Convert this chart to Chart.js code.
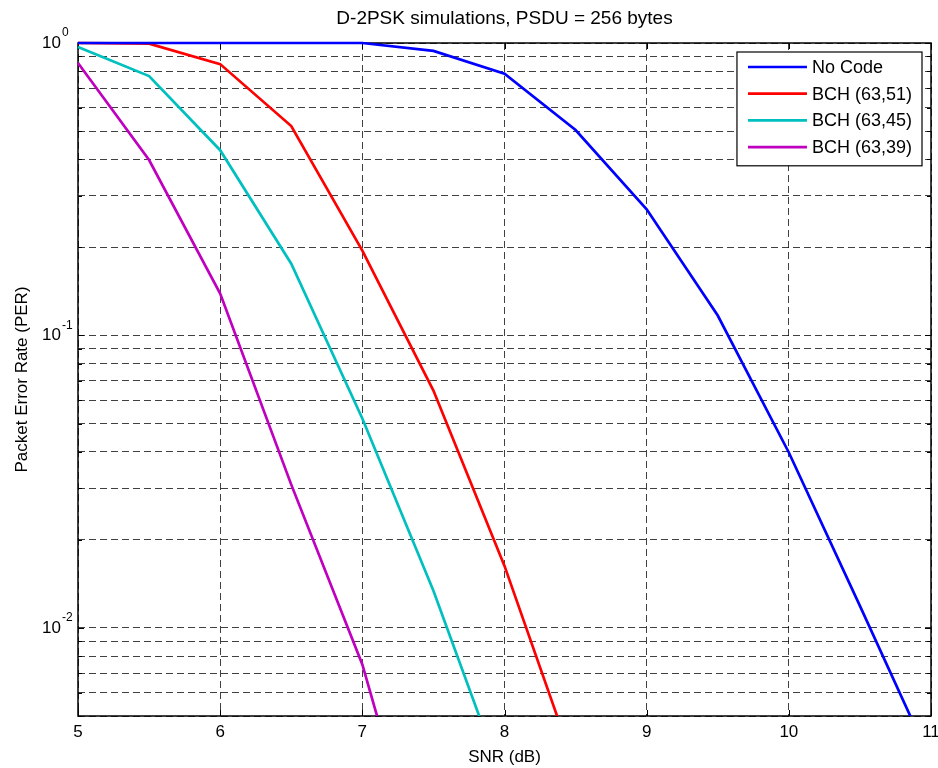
<!DOCTYPE html>
<html>
<head>
<meta charset="utf-8">
<script src="https://cdn.jsdelivr.net/npm/chart.js@4.4.0/dist/chart.umd.min.js"></script>
<style>
  html, body { margin: 0; padding: 0; background: #fff; }
</style>
</head>
<body>
<canvas id="per" width="938" height="768"></canvas>
<script>
// SNR points (dB)
const snr = [5, 5.5, 6, 6.5, 7, 7.5, 8, 8.5, 9, 9.5, 10, 10.5, 11];

// PER per code
const noCode = [1, 1, 1, 1, 1, 0.94, 0.785, 0.504, 0.270, 0.117, 0.0398, 0.0119, 0.0035];
const bch6351 = [1, 0.995, 0.847, 0.52, 0.195, 0.0648, 0.0163, 0.0033];
const bch6345 = [0.969, 0.771, 0.43, 0.176, 0.052, 0.0134, 0.0029];
const bch6339 = [0.854, 0.398, 0.139, 0.0309, 0.0075, 0.00106];

const seriesLabels = ['No Code', 'BCH (63,51)', 'BCH (63,45)', 'BCH (63,39)'];
const seriesColors = ['#0000FF', '#FF0000', '#00BFBF', '#BF00BF'];
const chartTitle = 'D-2PSK simulations, PSDU = 256 bytes';

// log grid lines and labelled decades
const yGridValues = [0.005, 0.006, 0.007, 0.008, 0.009,
    0.01, 0.02, 0.03, 0.04, 0.05, 0.06, 0.07, 0.08, 0.09,
    0.1, 0.2, 0.3, 0.4, 0.5, 0.6, 0.7, 0.8, 0.9, 1];
const yLabelValues = [1, 0.1, 0.01];
const yLabelExponents = ['0', '-1', '-2'];

const FONT = "'Liberation Sans', Arial, Helvetica, sans-serif";

function toPoints(values) {
    return values.map((v, i) => ({ x: snr[i], y: v }));
}

// draws the box, inward ticks, the 10^n labels and the title (under the curves)
const matlabAxes = {
    id: 'matlabAxes',
    beforeDatasetsDraw(chart) {
        const { ctx, chartArea: a, scales } = chart;
        ctx.save();
        ctx.strokeStyle = '#000';
        ctx.lineWidth = 1;
        ctx.setLineDash([]);
        ctx.beginPath();
        scales.x.ticks.forEach(t => {
            const x = Math.round(scales.x.getPixelForValue(t.value)) + 0.5;
            ctx.moveTo(x, a.bottom); ctx.lineTo(x, a.bottom - 6);
            ctx.moveTo(x, a.top); ctx.lineTo(x, a.top + 6);
        });
        yGridValues.forEach(v => {
            const y = Math.round(scales.y.getPixelForValue(v)) + 0.5;
            const len = yLabelValues.includes(v) ? 6 : 4;
            ctx.moveTo(a.left, y); ctx.lineTo(a.left + len, y);
            ctx.moveTo(a.right, y); ctx.lineTo(a.right - len, y);
        });
        ctx.stroke();
        ctx.lineWidth = 1.5;
        ctx.strokeRect(a.left, a.top, a.right - a.left, a.bottom - a.top);

        ctx.fillStyle = '#000';
        ctx.textBaseline = 'middle';
        yLabelValues.forEach((v, i) => {
            const y = scales.y.getPixelForValue(v);
            ctx.font = '17px ' + FONT;
            ctx.textAlign = 'right';
            ctx.fillText('10', a.left - 17, y);
            ctx.font = '12px ' + FONT;
            ctx.textAlign = 'left';
            ctx.fillText(yLabelExponents[i], a.left - 16, y - 10);
        });

        // title centred over the plot box, like MATLAB
        ctx.font = '19px ' + FONT;
        ctx.textAlign = 'center';
        ctx.fillText(chartTitle, (a.left + a.right) / 2, 19);
        ctx.restore();
    }
};

// MATLAB-style legend box in the upper right corner
const boxLegend = {
    id: 'boxLegend',
    afterDraw(chart) {
        const { ctx, chartArea: a } = chart;
        const sets = chart.data.datasets;
        ctx.save();
        ctx.font = '18px ' + FONT;
        const textW = Math.max(...sets.map(d => ctx.measureText(d.label).width));
        const w = 11 + 59 + 5 + textW + 10;
        const rowH = 26.7;
        const h = rowH * sets.length + 7;
        const left = a.right - 9 - w;
        const top = a.top + 9;
        ctx.fillStyle = '#fff';
        ctx.fillRect(left, top, w, h);
        ctx.strokeStyle = '#000';
        ctx.lineWidth = 1.2;
        ctx.strokeRect(left, top, w, h);
        ctx.textBaseline = 'middle';
        ctx.textAlign = 'left';
        sets.forEach((d, i) => {
            const y = top + 15 + i * rowH;
            ctx.strokeStyle = d.borderColor;
            ctx.lineWidth = 2.7;
            ctx.beginPath();
            ctx.moveTo(left + 11, y);
            ctx.lineTo(left + 70, y);
            ctx.stroke();
            ctx.fillStyle = '#000';
            ctx.fillText(d.label, left + 75, y + 1);
        });
        ctx.restore();
    }
};

const allSeries = [noCode, bch6351, bch6345, bch6339];

const chart = new Chart(document.getElementById('per').getContext('2d'), {
    type: 'line',
    data: {
        datasets: allSeries.map((values, i) => ({
            label: seriesLabels[i],
            data: toPoints(values),
            borderColor: seriesColors[i],
            backgroundColor: seriesColors[i],
            borderWidth: 2.7,
            pointRadius: 0,
            tension: 0,
            fill: false,
            clip: { left: 3, top: 3, right: 3, bottom: 0 }
        }))
    },
    options: {
        responsive: false,
        animation: false,
        devicePixelRatio: 1,
        layout: { padding: { left: 0, right: 7, top: 43, bottom: 0 } },
        plugins: {
            legend: { display: false },
            tooltip: { enabled: false },
            title: { display: false }
        },
        scales: {
            x: {
                type: 'linear',
                min: 5,
                max: 11,
                ticks: { stepSize: 1, color: '#000', padding: 6, font: { family: FONT, size: 17 } },
                grid: { color: 'rgba(0,0,0,0.75)', lineWidth: 1, drawTicks: false },
                border: { display: false, dash: [7, 4] },
                title: {
                    display: true,
                    text: 'SNR (dB)',
                    color: '#000',
                    font: { family: FONT, size: 17 },
                    padding: { top: 0, bottom: 0 }
                },
                afterFit: scale => {
                    scale.height = 52;
                    scale.paddingLeft = 0;
                    scale.paddingRight = 0;
                }
            },
            y: {
                type: 'logarithmic',
                min: 0.005,
                max: 1,
                afterBuildTicks: scale => {
                    scale.ticks = yGridValues.map(v => ({ value: v }));
                },
                ticks: { autoSkip: false, callback: () => '' },
                grid: { color: 'rgba(0,0,0,0.75)', lineWidth: 1, drawTicks: false },
                border: { display: false, dash: [7, 4] },
                title: {
                    display: true,
                    text: 'Packet Error Rate (PER)',
                    color: '#000',
                    font: { family: FONT, size: 17 },
                    padding: { top: 12, bottom: 0 }
                },
                afterFit: scale => {
                    scale.width = 78;
                    scale.paddingTop = 0;
                    scale.paddingBottom = 0;
                }
            }
        }
    },
    plugins: [matlabAxes, boxLegend]
});
</script>
</body>
</html>
